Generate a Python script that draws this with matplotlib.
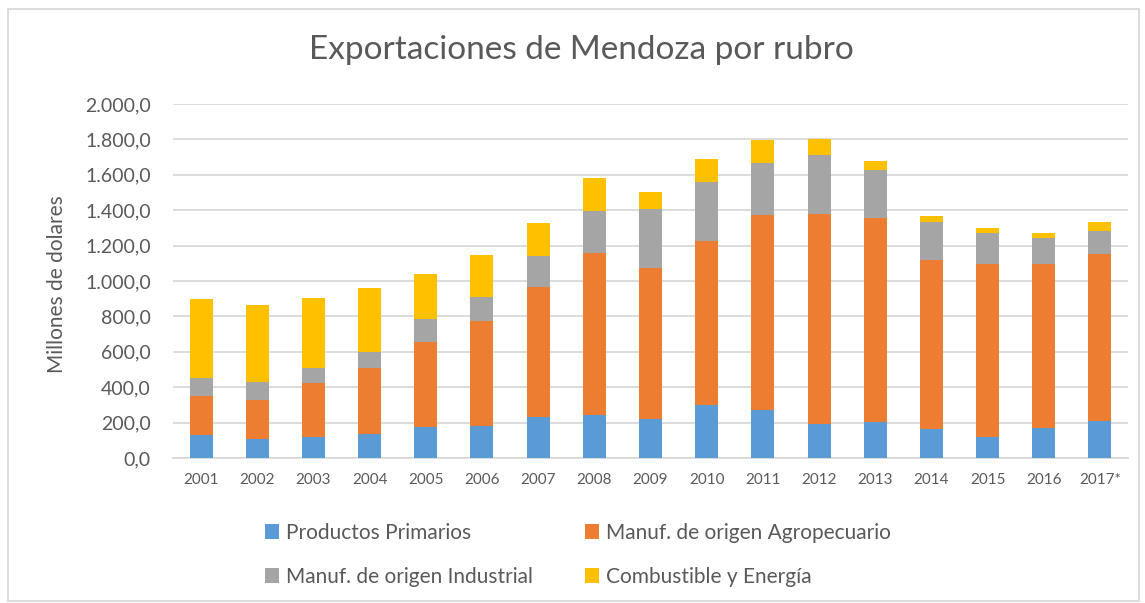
import numpy as np
import matplotlib
matplotlib.use("Agg")
import matplotlib.pyplot as plt
from matplotlib.patches import Rectangle
from matplotlib.ticker import FuncFormatter

# datos (millones de dolares)
years = ['2001', '2002', '2003', '2004', '2005', '2006', '2007', '2008', '2009',
         '2010', '2011', '2012', '2013', '2014', '2015', '2016', '2017*']
primarios = [132, 109, 120, 136, 173, 181, 232, 245, 223, 298, 274, 191, 206, 162, 121, 170, 208]
agro = [216, 217, 304, 372, 480, 595, 734, 911, 849, 930, 1100, 1188, 1149, 955, 977, 928, 947]
industrial = [104, 103, 84, 89, 134, 133, 173, 239, 334, 331, 290, 332, 273, 215, 172, 144, 128]
combustible = [446, 437, 398, 363, 254, 240, 189, 187, 98, 132, 131, 93, 49, 36, 30, 28, 51]

series_names = ['Productos Primarios', 'Manuf. de origen Agropecuario',
                'Manuf. de origen Industrial', 'Combustible y Energía']
colors = ['#5B9BD5', '#ED7D31', '#A5A5A5', '#FFC000']
text_col = '#595959'

plt.rcParams['font.family'] = ['Lato', 'DejaVu Sans']

fig = plt.figure(figsize=(11.45, 6.03), dpi=100)
ax = fig.add_axes([173/1145, 1-458/603, 955/1145, 354/603])

x = np.arange(len(years))
bottom = np.zeros(len(years))
handles = []
for vals, c, name in zip([primarios, agro, industrial, combustible], colors, series_names):
    b = ax.bar(x, vals, width=0.41, bottom=bottom, color=c, label=name, zorder=3)
    handles.append(b)
    bottom += np.array(vals)

ax.set_xlim(-0.5, len(years)-0.5)
ax.set_ylim(0, 2000)
ax.set_yticks(np.arange(0, 2001, 200))
ax.yaxis.set_major_formatter(FuncFormatter(lambda v, p: f"{v:,.1f}".replace(',', 'X').replace('.', ',').replace('X', '.')))
ax.set_xticks(x)
ax.set_xticklabels(years)
ax.grid(axis='y', color='#D9D9D9', linewidth=1.3, zorder=0)
for s in ['top', 'right', 'left']:
    ax.spines[s].set_visible(False)
ax.spines['bottom'].set_color('#D9D9D9')
ax.spines['bottom'].set_linewidth(1.3)
ax.tick_params(axis='y', length=0, pad=16, labelsize=14, labelcolor=text_col)
ax.tick_params(axis='x', length=0, pad=11, labelsize=11, labelcolor=text_col)

fig.text(581/1145, 1-50/603, 'Exportaciones de Mendoza por rubro', ha='center', va='center',
         fontsize=24, color=text_col)
fig.text(57/1145, 1-284/603, 'Millones de dolares', rotation=90, ha='center', va='center',
         fontsize=15, color=text_col)

# orden por filas como en el original (legend llena por columnas)
order = [0, 2, 1, 3]
leg = fig.legend([handles[i] for i in order], [series_names[i] for i in order],
                 ncol=2, loc='center left', bbox_to_anchor=(246/1145, 1-555/603),
                 frameon=False, fontsize=15, handlelength=0.7, handleheight=0.7,
                 handletextpad=0.3, columnspacing=2.5, labelspacing=1.15)
for t in leg.get_texts():
    t.set_color(text_col)

# marco del grafico
fig.patches.append(Rectangle((8/1145, 0.003), 1131/1145, 1-9/603-0.003, transform=fig.transFigure,
                             fill=False, edgecolor='#D9D9D9', linewidth=1.3))

fig.savefig('out.png', dpi=100)
